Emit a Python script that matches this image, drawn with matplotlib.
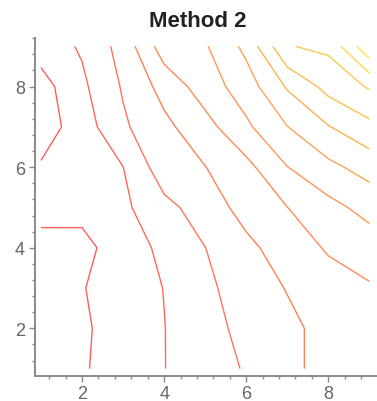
import numpy as np
import matplotlib.pyplot as plt
from matplotlib.ticker import MultipleLocator

# grid nodes (data matrix 9x9)
x_nodes = [1, 2, 3, 4, 5, 6, 7, 8, 9]
y_nodes = [1, 2, 3, 4, 5, 6, 7, 8, 9]

z_row1 = [0.50, 0.90, 1.45, 1.98, 2.55, 3.08, 3.75, 4.35, 4.80]
z_row2 = [0.50, 0.85, 1.45, 1.98, 2.62, 3.30, 3.75, 4.35, 4.85]
z_row3 = [0.55, 0.95, 1.50, 2.02, 2.80, 3.45, 4.05, 4.60, 4.90]
z_row4 = [0.75, 0.80, 1.35, 2.29, 2.99, 3.75, 4.50, 5.10, 5.50]
z_row5 = [1.25, 1.20, 1.80, 2.72, 3.45, 4.38, 4.99, 5.70, 6.33]
z_row6 = [1.10, 1.50, 1.99, 3.57, 3.98, 4.71, 5.98, 6.75, 7.40]
z_row7 = [0.50, 1.50, 2.85, 3.75, 4.65, 5.82, 6.98, 7.95, 8.73]
z_row8 = [0.60, 1.80, 3.10, 4.35, 5.49, 6.51, 8.10, 9.33, 10.10]
z_row9 = [1.45, 2.12, 3.38, 5.52, 5.90, 7.26, 9.95, 10.20, 12.80]

levels = [1, 2, 3, 4, 5, 6, 7, 8, 9, 10, 11, 12]
title = 'Method 2'

Z = np.array([z_row1, z_row2, z_row3, z_row4, z_row5,
              z_row6, z_row7, z_row8, z_row9])
X, Y = np.meshgrid(x_nodes, y_nodes)

# red -> yellow like the maple default, washed out a bit (thin lines look pale)
t = np.linspace(0, 1, len(levels))
line_cols = [(1.0, 0.36 + 0.52 * v, 0.36 - 0.06 * v) for v in t]

fig = plt.figure(figsize=(3.77, 4.02), dpi=100)
ax = fig.add_axes([0.0924, 0.0634, 0.908, 0.839])

ax.contour(X, Y, Z, levels=levels, colors=line_cols, linewidths=1.0)

ax.set_xlim(0.85, 9.19)
ax.set_ylim(0.83, 9.2)

for s in ['top', 'right']:
    ax.spines[s].set_visible(False)
for s in ['left', 'bottom']:
    ax.spines[s].set_color('#8a8a8a')
    ax.spines[s].set_linewidth(1.4)

ax.xaxis.set_major_locator(MultipleLocator(2))
ax.yaxis.set_major_locator(MultipleLocator(2))
ax.xaxis.set_minor_locator(MultipleLocator(0.4))
ax.yaxis.set_minor_locator(MultipleLocator(0.4))
ax.tick_params(which='major', direction='out', length=4, width=1.0,
               color='#8a8a8a', labelsize=13, labelcolor='#666666', pad=3)
ax.tick_params(which='minor', direction='out', length=2.5, width=1.0,
               color='#8a8a8a')
for lab in ax.get_xticklabels() + ax.get_yticklabels():
    lab.set_family('Liberation Sans')

fig.text(0.525, 0.933, title, ha='center', va='baseline',
         fontsize=16, fontweight='bold', family='Liberation Sans', color='#222222')

fig.savefig('out.png', dpi=100)
